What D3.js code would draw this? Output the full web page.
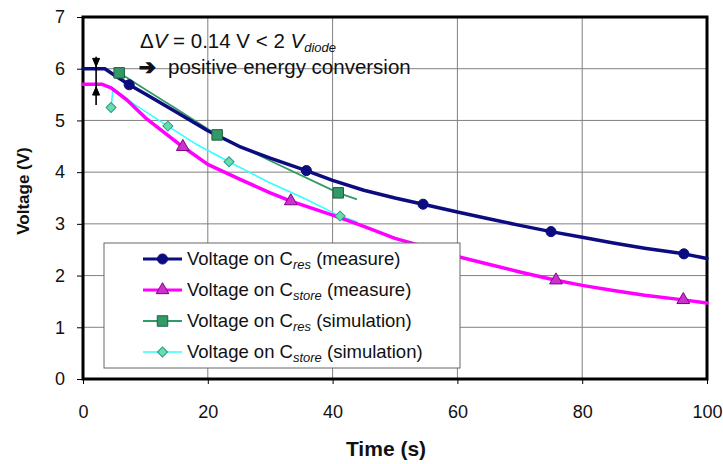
<!DOCTYPE html>
<html><head><meta charset="utf-8">
<script src="https://cdn.jsdelivr.net/npm/d3@7"></script>
<style>body{margin:0;background:#fff}svg{display:block}text{font-family:"Liberation Sans",Arial,sans-serif}</style>
</head><body><svg id="c" width="723" height="464"></svg>
<script>
// ---- data ----
const xTicks = [0, 20, 40, 60, 80, 100];
const yTicks = [0, 1, 2, 3, 4, 5, 6, 7];
const cresMeasure = [[0,6.0],[3.5,6.0],[5,5.88],[7.4,5.69],[10,5.51],[15,5.16],[20,4.8],[25,4.5],[30,4.27],[35.8,4.03],[40,3.84],[45,3.65],[50,3.5],[54.5,3.38],[60,3.23],[65,3.1],[70,2.97],[75,2.85],[80,2.74],[85,2.63],[90,2.53],[96.3,2.42],[100,2.33]];
const cresMeasureMarks = [[7.4,5.69],[35.8,4.03],[54.5,3.38],[75,2.85],[96.3,2.42]];
const cstoreMeasure = [[0,5.7],[3,5.7],[4.5,5.63],[7,5.4],[10,5.05],[15,4.58],[16,4.49],[20,4.15],[25,3.87],[30,3.6],[33.3,3.44],[40,3.17],[45,2.95],[50,2.72],[55,2.55],[60,2.37],[65,2.22],[70,2.07],[75.8,1.91],[80,1.81],[85,1.71],[90,1.62],[96.2,1.53],[100,1.47]];
const cstoreMeasureMarks = [[16,4.49],[33.3,3.44],[75.8,1.91],[96.2,1.53]];
const cresSim = [[5.8,5.92],[10,5.6],[15,5.22],[21.5,4.72],[30,4.22],[40.9,3.6],[43.8,3.48]];
const cresSimMarks = [[5.8,5.92],[21.5,4.72],[40.9,3.6]];
const cstoreSim = [[4.5,5.25],[4.8,5.62],[8,5.33],[13.6,4.89],[18,4.55],[23.4,4.2],[30,3.79],[35,3.52],[41.2,3.15],[43.9,3.04]];
const cstoreSimMarks = [[4.5,5.25],[13.6,4.89],[23.4,4.2],[41.2,3.15]];
const legendItems = [
  {main:"Voltage on C", sub:"res", tail:" (measure)", key:"cm"},
  {main:"Voltage on C", sub:"store", tail:" (measure)", key:"sm"},
  {main:"Voltage on C", sub:"res", tail:" (simulation)", key:"cs"},
  {main:"Voltage on C", sub:"store", tail:" (simulation)", key:"ss"}
];
const annotationDelta = 0.14;

// ---- styles ----
const styles = {
  cm:{stroke:"#0c0c80", width:3.5, marker:"circle", fill:"#0c0c80", edge:"#0c0c80"},
  sm:{stroke:"#ff00ff", width:3.5, marker:"triangle", fill:"#cc33cc", edge:"#800080"},
  cs:{stroke:"#339966", width:1.8, marker:"square", fill:"#339966", edge:"#1f5f3f"},
  ss:{stroke:"#33ffff", width:1.6, marker:"diamond", fill:"#66ddaa", edge:"#2a9a8a"}
};

const svg = d3.select("#c");
const x = d3.scaleLinear().domain([0,100]).range([83,707]);
const y = d3.scaleLinear().domain([0,7]).range([379,17]);

// grid
svg.append("g").selectAll("line").data(xTicks.slice(1,-1)).join("line")
  .attr("x1",d=>x(d)).attr("x2",d=>x(d)).attr("y1",y(7)).attr("y2",y(0))
  .attr("stroke","#808080").attr("stroke-width",1);
svg.append("g").selectAll("line").data(yTicks.slice(1,-1)).join("line")
  .attr("x1",x(0)).attr("x2",x(100)).attr("y1",d=>y(d)).attr("y2",d=>y(d))
  .attr("stroke","#808080").attr("stroke-width",1);

// axes
const xAxis = svg.append("g").attr("transform",`translate(0,${y(0)})`)
  .call(d3.axisBottom(x).tickValues(xTicks).tickSize(5).tickPadding(21).tickFormat(d3.format("d")));
const yAxis = svg.append("g").attr("transform",`translate(${x(0)},0)`)
  .call(d3.axisLeft(y).tickValues(yTicks).tickSize(6).tickPadding(12).tickFormat(d3.format("d")));
[xAxis,yAxis].forEach(g=>{
  g.select(".domain").remove();
  g.selectAll(".tick line").attr("stroke","#000");
  g.selectAll(".tick text").attr("font-size",18).attr("fill","#111").style("font-family","Liberation Sans, Arial, sans-serif");
});

// frame
svg.append("rect").attr("x",x(0)).attr("y",y(7)).attr("width",x(100)-x(0)).attr("height",y(0)-y(7))
  .attr("fill","none").attr("stroke","#000").attr("stroke-width",3);

// series lines
const line = d3.line().x(d=>x(d[0])).y(d=>y(d[1]));
const seriesData = {cm:cresMeasure, sm:cstoreMeasure, cs:cresSim, ss:cstoreSim};
const seriesMarks = {cm:cresMeasureMarks, sm:cstoreMeasureMarks, cs:cresSimMarks, ss:cstoreSimMarks};
const order = ["ss","cs","sm","cm"];
order.forEach(k=>{
  svg.append("path").datum(seriesData[k]).attr("d",line)
    .attr("fill","none").attr("stroke",styles[k].stroke).attr("stroke-width",styles[k].width)
    .attr("stroke-linejoin","round").attr("stroke-linecap","round");
});
const symbolOf = {circle:d3.symbolCircle, triangle:d3.symbolTriangle, square:d3.symbolSquare, diamond:d3.symbolSquare};
const sizeOf = {circle:80, triangle:70, square:110, diamond:50};
function drawMarker(g, k, px, py){
  const s = styles[k];
  const rot = s.marker === "diamond" ? " rotate(45)" : "";
  g.append("path").attr("d",d3.symbol().type(symbolOf[s.marker]).size(sizeOf[s.marker])())
    .attr("transform",`translate(${px},${py})${rot}`)
    .attr("fill",s.fill).attr("stroke",s.edge).attr("stroke-width",1);
}
order.forEach(k=>{
  const g = svg.append("g");
  seriesMarks[k].forEach(d=>drawMarker(g,k,x(d[0]),y(d[1])));
});

// cross marker (ΔV indicator)
const cx = x(2.1);
const ar = svg.append("g").attr("stroke","#000").attr("fill","#000");
ar.append("line").attr("x1",cx).attr("x2",cx).attr("y1",y(6.23)).attr("y2",y(5.3)).attr("stroke-width",1.6);
ar.append("path").attr("d",`M${cx-3.5},${y(6.2)} L${cx+3.5},${y(6.2)} L${cx},${y(6.04)} Z`);
ar.append("path").attr("d",`M${cx-3.5},${y(5.49)} L${cx+3.5},${y(5.49)} L${cx},${y(5.65)} Z`);

// annotation
const ann = svg.append("g").attr("font-size",20.5).attr("fill","#111");
const t1 = ann.append("text").attr("x",140).attr("y",48);
t1.append("tspan").text("\u0394");
t1.append("tspan").attr("font-style","italic").text("V");
t1.append("tspan").text(` = ${annotationDelta} V < 2 `);
t1.append("tspan").attr("font-style","italic").text("V");
t1.append("tspan").attr("font-style","italic").attr("font-size",13).attr("dy",4).text("diode");
ann.append("text").attr("x",139).attr("y",74).attr("font-size",20).attr("stroke","#111").attr("stroke-width",1.3)
  .style("font-family","DejaVu Sans").text("\u2794");
ann.append("text").attr("x",168).attr("y",74).text("positive energy conversion");

// legend
const lg = svg.append("g");
lg.append("rect").attr("x",104).attr("y",243).attr("width",356).attr("height",125)
  .attr("fill","#fff").attr("stroke","#666").attr("stroke-width",1);
legendItems.forEach((it,i)=>{
  const ly = 259 + i*31;
  const s = styles[it.key];
  lg.append("line").attr("x1",143).attr("x2",182).attr("y1",ly).attr("y2",ly)
    .attr("stroke",s.stroke).attr("stroke-width",Math.min(s.width,3));
  drawMarker(lg,it.key,162.5,ly);
  const t = lg.append("text").attr("x",187).attr("y",ly+6).attr("font-size",18.5).attr("fill","#111");
  t.append("tspan").text(it.main);
  t.append("tspan").attr("font-style","italic").attr("font-size",13).attr("dy",4).text(it.sub);
  t.append("tspan").attr("dy",-4).text(it.tail);
});

// axis titles
svg.append("text").attr("x",386).attr("y",456).attr("text-anchor","middle")
  .attr("font-size",21).attr("font-weight","bold").attr("fill","#111").text("Time (s)");
svg.append("text").attr("transform","translate(29,191) rotate(-90)").attr("text-anchor","middle")
  .attr("font-size",17).attr("font-weight","bold").attr("fill","#111").text("Voltage (V)");
</script></body></html>
